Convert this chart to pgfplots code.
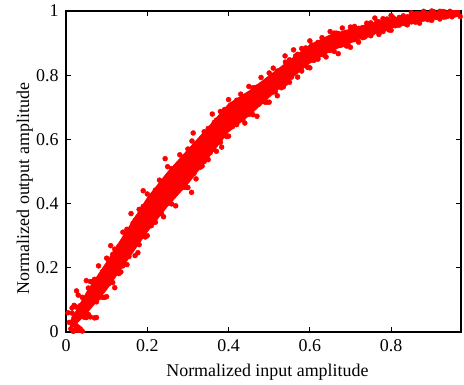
\documentclass[border=0pt]{standalone}
\usepackage{fontspec}
\setmainfont{Liberation Serif}
\usepackage{pgfplots}
\pgfplotsset{compat=1.18}
\begin{document}
\begin{tikzpicture}
\begin{axis}[
 scale only axis, width=395bp, height=321bp,
 xmin=0, xmax=0.972, ymin=0, ymax=1,
 xtick={0,0.2,0.4,0.6,0.8}, ytick={0,0.2,0.4,0.6,0.8,1},
 xticklabels={\textrm{0},\textrm{0.2},\textrm{0.4},\textrm{0.6},\textrm{0.8}},
 yticklabels={\textrm{0},\textrm{0.2},\textrm{0.4},\textrm{0.6},\textrm{0.8},\textrm{1}},
 tick align=inside, major tick length=5bp,
 axis line style={line width=1.3bp},
 every tick/.style={black,line width=0.9bp},
 tick label style={font=\fontsize{18}{21}\selectfont},
 xticklabel style={yshift=-4bp},
 yticklabel style={xshift=-4bp},
 label style={font=\fontsize{18}{21}\selectfont},
 xlabel={Normalized input amplitude},
 ylabel={Normalized output amplitude},
 xlabel style={at={(axis description cs:0.51,-0.1246)},anchor=center},
 ylabel style={at={(axis description cs:-0.104,0.447)},anchor=center},
 clip=true,
]
\addplot[draw=none, fill=red] coordinates {
(0.01,0.035) (0.05,0.125) (0.1,0.22) (0.15,0.32) (0.2,0.42) (0.25,0.50)
(0.3,0.57) (0.35,0.64) (0.4,0.712) (0.45,0.752) (0.5,0.80) (0.55,0.848)
(0.6,0.896) (0.65,0.927) (0.7,0.945) (0.75,0.963) (0.8,0.978) (0.85,0.989)
(0.9,0.997) (0.97,1.005)
(0.97,0.989) (0.9,0.977) (0.85,0.963) (0.8,0.946) (0.75,0.925) (0.7,0.899)
(0.65,0.873) (0.6,0.836) (0.55,0.784) (0.5,0.730) (0.45,0.672) (0.4,0.622)
(0.35,0.54) (0.3,0.46) (0.25,0.39) (0.2,0.31) (0.15,0.22) (0.1,0.13)
(0.05,0.055) (0.01,0.005)
} -- cycle;
\addplot[only marks, mark=*, mark size=2.5bp, color=red] coordinates {
(0.005,0.060) (0.008,0.030) (0.012,0.010) (0.018,0.002) (0.020,0.045) (0.025,0.020) (0.030,0.005) (0.015,0.075)
(0.02,0.083) (0.02,0.004) (0.025,0.078)
(0.03,0.115) (0.03,0.015) (0.035,0.010)
(0.04,0.108) (0.04,0.003) (0.045,0.103)
(0.05,0.160) (0.05,0.045) (0.055,0.055)
(0.06,0.157) (0.06,0.047) (0.065,0.157)
(0.07,0.164) (0.07,0.044) (0.075,0.094)
(0.08,0.206) (0.08,0.106) (0.085,0.176)
(0.09,0.188) (0.09,0.108) (0.095,0.108)
(0.10,0.230) (0.10,0.110) (0.105,0.220)
(0.11,0.269) (0.11,0.154) (0.115,0.154)
(0.12,0.258) (0.12,0.138) (0.125,0.253)
(0.13,0.267) (0.13,0.182) (0.135,0.187)
(0.14,0.311) (0.14,0.206) (0.145,0.281)
(0.15,0.320) (0.15,0.210) (0.155,0.235)
(0.16,0.369) (0.16,0.254) (0.165,0.339)
(0.17,0.348) (0.17,0.238) (0.175,0.278)
(0.18,0.382) (0.18,0.272) (0.185,0.362)
(0.19,0.391) (0.19,0.306) (0.195,0.296)
(0.20,0.430) (0.20,0.300) (0.205,0.410)
(0.21,0.416) (0.21,0.331) (0.215,0.341)
(0.22,0.442) (0.22,0.342) (0.225,0.437)
(0.23,0.473) (0.23,0.373) (0.235,0.368)
(0.24,0.464) (0.24,0.359) (0.245,0.459)
(0.25,0.515) (0.25,0.400) (0.255,0.410)
(0.26,0.509) (0.26,0.399) (0.265,0.509)
(0.27,0.513) (0.27,0.393) (0.275,0.443)
(0.28,0.552) (0.28,0.452) (0.285,0.522)
(0.29,0.531) (0.29,0.451) (0.295,0.451)
(0.30,0.570) (0.30,0.450) (0.305,0.560)
(0.31,0.595) (0.31,0.494) (0.315,0.494)
(0.32,0.583) (0.32,0.477) (0.325,0.578)
(0.33,0.588) (0.33,0.513) (0.335,0.517)
(0.34,0.624) (0.34,0.531) (0.345,0.597)
(0.35,0.634) (0.35,0.537) (0.355,0.559)
(0.36,0.679) (0.36,0.578) (0.365,0.653)
(0.37,0.660) (0.37,0.563) (0.375,0.599)
(0.38,0.687) (0.38,0.591) (0.385,0.670)
(0.39,0.693) (0.39,0.618) (0.395,0.609)
(0.40,0.724) (0.40,0.610) (0.405,0.707)
(0.41,0.705) (0.41,0.640) (0.415,0.648)
(0.42,0.722) (0.42,0.646) (0.425,0.718)
(0.43,0.741) (0.43,0.665) (0.435,0.661)
(0.44,0.731) (0.44,0.651) (0.445,0.727)
(0.45,0.765) (0.45,0.678) (0.455,0.685)
(0.46,0.761) (0.46,0.677) (0.465,0.761)
(0.47,0.763) (0.47,0.672) (0.475,0.710)
(0.48,0.793) (0.48,0.717) (0.485,0.771)
(0.49,0.777) (0.49,0.716) (0.495,0.716)
(0.50,0.807) (0.50,0.716) (0.505,0.799)
(0.51,0.822) (0.51,0.748) (0.515,0.748)
(0.52,0.813) (0.52,0.736) (0.525,0.810)
(0.53,0.815) (0.53,0.761) (0.535,0.764)
(0.54,0.841) (0.54,0.774) (0.545,0.822)
(0.55,0.848) (0.55,0.778) (0.555,0.794)
(0.56,0.879) (0.56,0.806) (0.565,0.860)
(0.57,0.865) (0.57,0.794) (0.575,0.820)
(0.58,0.883) (0.58,0.813) (0.585,0.870)
(0.59,0.885) (0.59,0.830) (0.595,0.824)
(0.60,0.907) (0.60,0.823) (0.605,0.894)
(0.61,0.890) (0.61,0.846) (0.615,0.851)
(0.62,0.902) (0.62,0.850) (0.625,0.900)
(0.63,0.917) (0.63,0.865) (0.635,0.863)
(0.64,0.911) (0.64,0.857) (0.645,0.909)
(0.65,0.936) (0.65,0.877) (0.655,0.882)
(0.66,0.931) (0.66,0.874) (0.665,0.931)
(0.67,0.930) (0.67,0.867) (0.675,0.893)
(0.68,0.947) (0.68,0.895) (0.685,0.931)
(0.69,0.933) (0.69,0.891) (0.695,0.891)
(0.70,0.950) (0.70,0.887) (0.705,0.944)
(0.71,0.952) (0.71,0.911) (0.715,0.911)
(0.72,0.946) (0.72,0.903) (0.725,0.944)
(0.73,0.948) (0.73,0.917) (0.735,0.919)
(0.74,0.962) (0.74,0.924) (0.745,0.951)
(0.75,0.963) (0.75,0.923) (0.755,0.932)
(0.76,0.978) (0.76,0.936) (0.765,0.967)
(0.77,0.966) (0.77,0.927) (0.775,0.941)
(0.78,0.976) (0.78,0.936) (0.785,0.969)
(0.79,0.975) (0.79,0.945) (0.795,0.941)
(0.80,0.986) (0.80,0.940) (0.805,0.979)
(0.81,0.974) (0.81,0.954) (0.815,0.956)
(0.82,0.980) (0.82,0.956) (0.825,0.979)
(0.83,0.985) (0.83,0.961) (0.835,0.960)
(0.84,0.982) (0.84,0.957) (0.845,0.981)
(0.85,0.994) (0.85,0.966) (0.855,0.969)
(0.86,0.991) (0.86,0.965) (0.865,0.991)
(0.87,0.991) (0.87,0.962) (0.875,0.974)
(0.88,0.999) (0.88,0.975) (0.885,0.991)
(0.89,0.992) (0.89,0.973) (0.895,0.973)
(0.90,1.000) (0.90,0.971) (0.905,0.998)
(0.91,1.003) (0.91,0.980) (0.915,0.980)
(0.92,0.999) (0.92,0.975) (0.925,0.998)
(0.93,0.998) (0.93,0.981) (0.935,0.982)
(0.94,1.005) (0.94,0.984) (0.945,0.999)
(0.95,1.004) (0.95,0.982) (0.955,0.987)
(0.96,1.012) (0.96,0.989) (0.965,1.006)
(0.97,1.005) (0.97,0.983) (0.975,0.991)
(0.015,0.059) (0.025,0.014) (0.035,0.082) (0.045,0.046) (0.055,0.137) (0.065,0.096)
(0.075,0.163) (0.085,0.118) (0.095,0.185) (0.105,0.150) (0.115,0.242) (0.125,0.203)
(0.135,0.272) (0.145,0.229) (0.155,0.298) (0.165,0.264) (0.175,0.356) (0.185,0.317)
(0.195,0.386) (0.205,0.341) (0.215,0.407) (0.225,0.370) (0.235,0.459) (0.245,0.417)
(0.190,0.440) (0.177,0.247) (0.026,0.128) (0.075,0.045) (0.313,0.620) (0.244,0.540)
(0.309,0.435) (0.383,0.576) (0.539,0.860)
};
\end{axis}
\pgfresetboundingbox
\path (current axis.south west) ++(-66bp,-53bp) (current axis.north east) ++(3bp,11bp);
\end{tikzpicture}
\end{document}
